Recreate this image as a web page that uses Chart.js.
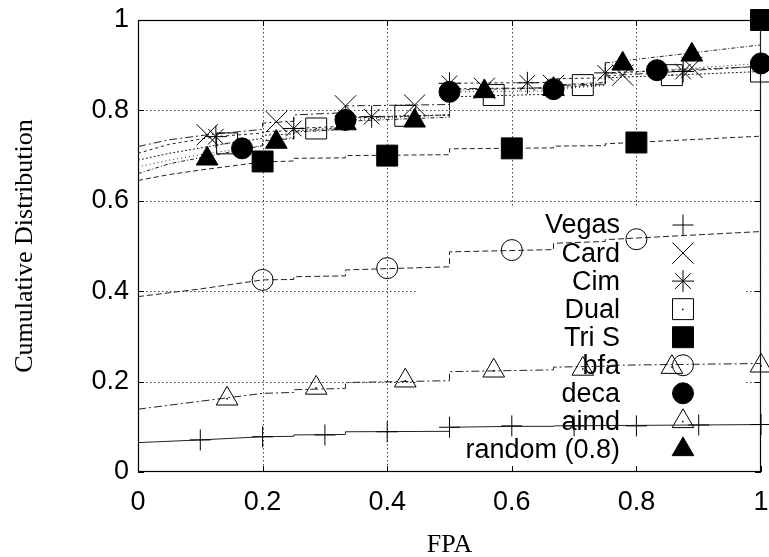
<!DOCTYPE html>
<html>
<head>
<meta charset="utf-8">
<script src="https://cdn.jsdelivr.net/npm/chart.js@4.4.1/dist/chart.umd.min.js"></script>
<style>
  body { margin: 0; background: #fff; }
</style>
</head>
<body>
<canvas id="cdfChart" width="769" height="557"></canvas>
<script>
// Series names, in key order
const seriesNames = ['Vegas', 'Card', 'Cim', 'Dual', 'Tri S', 'bfa', 'deca', 'aimd', 'random (0.8)'];

// Axis ticks
const xTicks = [0, 0.2, 0.4, 0.6, 0.8, 1];
const yTicks = [0, 0.2, 0.4, 0.6, 0.8, 1];

// CDF curves (x = FPA, y = cumulative fraction)
const vegasLineX = [0, 0.1, 0.2, 0.25, 0.25, 0.333, 0.333, 0.5, 0.5, 0.6, 0.667, 0.667, 0.9, 1, 1];
const vegasLineY = [0.065, 0.071, 0.078, 0.079, 0.082, 0.083, 0.089, 0.090, 0.099, 0.101, 0.101, 0.102, 0.104, 0.105, 1];
const cardLineX = [0, 0.05, 0.111, 0.2, 0.2, 0.25, 0.25, 0.333, 0.333, 0.5, 0.5, 0.667, 0.667, 0.75, 0.75, 1, 1];
const cardLineY = [0.720, 0.735, 0.746, 0.758, 0.772, 0.776, 0.790, 0.795, 0.810, 0.813, 0.848, 0.850, 0.855, 0.858, 0.876, 0.898, 1];
const cimLineX = [0, 0.05, 0.125, 0.2, 0.2, 0.25, 0.25, 0.333, 0.333, 0.5, 0.5, 0.667, 0.667, 0.75, 0.75, 1, 1];
const cimLineY = [0.705, 0.725, 0.742, 0.750, 0.753, 0.755, 0.760, 0.765, 0.783, 0.790, 0.860, 0.862, 0.870, 0.872, 0.883, 0.897, 1];
const dualLineX = [0, 0.05, 0.143, 0.2, 0.2, 0.25, 0.25, 0.333, 0.333, 0.5, 0.5, 0.667, 0.667, 0.75, 0.75, 1, 1];
const dualLineY = [0.690, 0.705, 0.727, 0.738, 0.745, 0.748, 0.755, 0.762, 0.785, 0.790, 0.830, 0.836, 0.850, 0.857, 0.872, 0.886, 1];
const triLineX = [0, 0.05, 0.1, 0.15, 0.2, 0.25, 0.25, 0.333, 0.333, 0.5, 0.5, 0.667, 0.667, 0.75, 0.75, 1, 1];
const triLineY = [0.645, 0.658, 0.668, 0.677, 0.686, 0.688, 0.694, 0.695, 0.700, 0.702, 0.715, 0.717, 0.721, 0.722, 0.726, 0.743, 1];
const bfaLineX = [0, 0.1, 0.2, 0.25, 0.25, 0.333, 0.333, 0.5, 0.5, 0.667, 0.667, 0.75, 0.75, 1, 1];
const bfaLineY = [0.388, 0.405, 0.425, 0.426, 0.432, 0.434, 0.447, 0.454, 0.487, 0.492, 0.506, 0.510, 0.514, 0.532, 1];
const decaLineX = [0, 0.05, 0.1, 0.167, 0.2, 0.2, 0.25, 0.25, 0.333, 0.333, 0.5, 0.5, 0.667, 0.667, 0.75, 0.75, 1, 1];
const decaLineY = [0.675, 0.690, 0.702, 0.716, 0.722, 0.735, 0.740, 0.752, 0.760, 0.779, 0.790, 0.841, 0.843, 0.847, 0.855, 0.880, 0.904, 1];
const aimdLineX = [0, 0.143, 0.2, 0.25, 0.25, 0.333, 0.333, 0.5, 0.5, 0.667, 0.667, 0.75, 0.75, 1, 1];
const aimdLineY = [0.139, 0.164, 0.174, 0.176, 0.182, 0.185, 0.198, 0.202, 0.222, 0.226, 0.232, 0.234, 0.236, 0.240, 1];
const randomLineX = [0, 0.05, 0.111, 0.2, 0.2, 0.25, 0.25, 0.333, 0.333, 0.5, 0.5, 0.667, 0.667, 0.75, 0.75, 1, 1];
const randomLineY = [0.660, 0.682, 0.698, 0.722, 0.732, 0.738, 0.752, 0.758, 0.776, 0.785, 0.845, 0.850, 0.856, 0.862, 0.905, 0.945, 1];

// Marker points along each curve
const vegasMarkX = [0.1, 0.2, 0.3, 0.4, 0.5, 0.6, 0.7, 0.8, 0.9, 1];
const vegasMarkY = [0.071, 0.078, 0.082, 0.089, 0.099, 0.102, 0.102, 0.102, 0.104, 0.105];
const cardMarkX = [0.111, 0.222, 0.333, 0.444, 0.556, 0.667, 0.778, 0.889];
const cardMarkY = [0.746, 0.775, 0.810, 0.812, 0.849, 0.855, 0.878, 0.895];
const cimMarkX = [0.125, 0.25, 0.375, 0.5, 0.625, 0.75, 0.875];
const cimMarkY = [0.742, 0.760, 0.786, 0.860, 0.861, 0.883, 0.886];
const dualMarkX = [0.143, 0.286, 0.429, 0.571, 0.714, 0.857, 1];
const dualMarkY = [0.727, 0.760, 0.788, 0.834, 0.856, 0.878, 0.886];
const triMarkX = [0.2, 0.4, 0.6, 0.8, 1];
const triMarkY = [0.687, 0.700, 0.716, 0.729, 1];
const bfaMarkX = [0.2, 0.4, 0.6, 0.8];
const bfaMarkY = [0.425, 0.451, 0.491, 0.515];
const decaMarkX = [0.167, 0.333, 0.5, 0.667, 0.833, 1];
const decaMarkY = [0.716, 0.779, 0.841, 0.847, 0.889, 0.904];
const aimdMarkX = [0.143, 0.286, 0.429, 0.571, 0.714, 0.857, 1];
const aimdMarkY = [0.162, 0.186, 0.202, 0.224, 0.228, 0.232, 0.235];
const randomMarkX = [0.111, 0.222, 0.333, 0.444, 0.556, 0.667, 0.778, 0.889];
const randomMarkY = [0.693, 0.730, 0.771, 0.777, 0.842, 0.847, 0.903, 0.923];

const pts = (xs, ys) => xs.map((x, i) => ({ x: x, y: ys[i] }));

const lines = [
    [vegasLineX, vegasLineY], [cardLineX, cardLineY], [cimLineX, cimLineY], [dualLineX, dualLineY],
    [triLineX, triLineY], [bfaLineX, bfaLineY], [decaLineX, decaLineY], [aimdLineX, aimdLineY],
    [randomLineX, randomLineY]
];
const marks = [
    [vegasMarkX, vegasMarkY], [cardMarkX, cardMarkY], [cimMarkX, cimMarkY], [dualMarkX, dualMarkY],
    [triMarkX, triMarkY], [bfaMarkX, bfaMarkY], [decaMarkX, decaMarkY], [aimdMarkX, aimdMarkY],
    [randomMarkX, randomMarkY]
];

// gnuplot-ish styles: dash pattern, point style, size, filled, centre dot
const styles = [
    { dash: [], point: 'cross', r: 10.5, fill: false },
    { dash: [8, 3, 2, 3], point: 'crossRot', r: 15, fill: false },
    { dash: [3, 3], point: 'star', r: 11, fill: false },
    { dash: [2, 2], point: 'rect', r: 14.8, fill: false, dot: true },
    { dash: [5, 3], point: 'rect', r: 14.8, fill: true },
    { dash: [6, 3], point: 'circle', r: 10.5, fill: false },
    { dash: [1, 3], point: 'circle', r: 10.5, fill: true },
    { dash: [8, 3, 2, 3], point: 'triangle', r: 12.5, fill: false, dot: true },
    { dash: [4, 2, 1, 2], point: 'triangle', r: 12.5, fill: true }
];

const datasets = [];
seriesNames.forEach((name, i) => {
    const st = styles[i];
    datasets.push({
        label: name + ' points',
        data: pts(marks[i][0], marks[i][1]),
        showLine: false,
        pointStyle: st.point,
        pointRadius: st.r,
        pointHoverRadius: st.r,
        pointBorderWidth: 1,
        pointBorderColor: '#000',
        pointBackgroundColor: st.fill ? '#000' : 'rgba(0,0,0,0)',
        centerDot: !!st.dot,
        clip: false,
        order: 1
    });
    datasets.push({
        label: name,
        data: pts(lines[i][0], lines[i][1]),
        showLine: true,
        borderColor: '#222',
        borderWidth: 1,
        borderDash: st.dash,
        pointRadius: 0,
        pointHoverRadius: 0,
        tension: 0,
        fill: false,
        order: 2
    });
});

const sansFont = '"Liberation Sans", Arial, sans-serif';
const serifFont = '"Liberation Serif", "Times New Roman", serif';

// grid, frame, ticks and the key, drawn under the data like gnuplot does
const gnuplotFrame = {
    id: 'gnuplotFrame',
    beforeDatasetsDraw(chart) {
        const ctx = chart.ctx;
        const xs = chart.scales.x, ys = chart.scales.y;
        const a = chart.chartArea;
        ctx.save();

        // dotted grid
        ctx.strokeStyle = '#444';
        ctx.lineWidth = 1;
        ctx.setLineDash([1.5, 2.5]);
        xTicks.forEach(v => {
            if (v <= 0 || v >= 1) return;
            const p = Math.round(xs.getPixelForValue(v)) + 0.5;
            ctx.beginPath(); ctx.moveTo(p, a.top); ctx.lineTo(p, a.bottom); ctx.stroke();
        });
        yTicks.forEach(v => {
            if (v <= 0 || v >= 1) return;
            const p = Math.round(ys.getPixelForValue(v)) + 0.5;
            ctx.beginPath(); ctx.moveTo(a.left, p); ctx.lineTo(a.right, p); ctx.stroke();
        });
        ctx.setLineDash([]);

        // key box hides the grid
        ctx.fillStyle = '#fff';
        ctx.fillRect(417, 207, 328, 259);

        // border
        ctx.strokeStyle = '#000';
        ctx.lineWidth = 1.2;
        ctx.strokeRect(a.left + 0.5, a.top + 0.5, a.right - a.left - 1, a.bottom - a.top - 1);

        // inward tick marks on all four sides
        ctx.lineWidth = 1;
        xTicks.forEach(v => {
            const p = Math.round(xs.getPixelForValue(v)) + 0.5;
            ctx.beginPath();
            ctx.moveTo(p, a.bottom); ctx.lineTo(p, a.bottom - 6);
            ctx.moveTo(p, a.top); ctx.lineTo(p, a.top + 6);
            ctx.stroke();
        });
        yTicks.forEach(v => {
            const p = Math.round(ys.getPixelForValue(v)) + 0.5;
            ctx.beginPath();
            ctx.moveTo(a.left, p); ctx.lineTo(a.left + 6, p);
            ctx.moveTo(a.right, p); ctx.lineTo(a.right - 6, p);
            ctx.stroke();
        });

        // key: labels right aligned, sample symbols to the right
        ctx.font = '27px ' + sansFont;
        ctx.textAlign = 'right';
        ctx.textBaseline = 'middle';
        seriesNames.forEach((name, i) => {
            const y = 225 + i * 28.05;
            ctx.fillStyle = '#000';
            ctx.fillText(name, 620, y + 1);
            const st = styles[i];
            ctx.strokeStyle = '#000';
            ctx.lineWidth = 1;
            ctx.fillStyle = st.fill ? '#000' : 'rgba(0,0,0,0)';
            Chart.helpers.drawPoint(ctx, { pointStyle: st.point, radius: st.r, rotation: 0, borderWidth: 1 }, 683, y);
            if (st.dot) {
                ctx.fillStyle = '#000';
                ctx.fillRect(682, y - 0.5, 1.5, 1.5);
            }
        });
        ctx.restore();
    },
    afterDatasetsDraw(chart) {
        const ctx = chart.ctx;
        ctx.save();
        ctx.fillStyle = '#000';
        chart.data.datasets.forEach((ds, i) => {
            if (!ds.centerDot) return;
            chart.getDatasetMeta(i).data.forEach(pt => {
                ctx.fillRect(pt.x - 0.75, pt.y - 0.75, 1.5, 1.5);
            });
        });
        ctx.restore();
    },
    afterDraw(chart) {
        const ctx = chart.ctx;
        const a = chart.chartArea;
        ctx.save();
        ctx.fillStyle = '#000';
        ctx.font = '26px ' + serifFont;
        ctx.textAlign = 'center';
        ctx.textBaseline = 'middle';
        ctx.fillText('FPA', (a.left + a.right) / 2, 545);
        ctx.translate(25, (a.top + a.bottom) / 2);
        ctx.rotate(-Math.PI / 2);
        ctx.fillText('Cumulative Distribution', 0, 0);
        ctx.restore();
    }
};

// keep the plot box exactly where gnuplot put it
const noPad = s => { s.paddingTop = 0; s.paddingBottom = 0; s.paddingLeft = 0; s.paddingRight = 0; };
const tickLabel = v => String(+(+v).toFixed(1));

new Chart(document.getElementById('cdfChart'), {
    type: 'scatter',
    data: { datasets: datasets },
    options: {
        responsive: false,
        animation: false,
        events: [],
        layout: { autoPadding: false, padding: { top: 20, right: 8, left: 0, bottom: 0 } },
        plugins: { legend: { display: false }, tooltip: { enabled: false } },
        scales: {
            x: {
                type: 'linear', min: 0, max: 1,
                afterFit: s => { s.height = 85; noPad(s); },
                grid: { display: false, drawTicks: false },
                border: { display: false },
                ticks: { stepSize: 0.2, padding: 14, color: '#000', maxRotation: 0, autoSkip: false,
                         font: { family: sansFont, size: 27 }, callback: tickLabel }
            },
            y: {
                type: 'linear', min: 0, max: 1,
                afterFit: s => { s.width = 138; noPad(s); },
                grid: { display: false, drawTicks: false },
                border: { display: false },
                ticks: { stepSize: 0.2, padding: 9, color: '#000', autoSkip: false,
                         font: { family: sansFont, size: 27 }, callback: tickLabel }
            }
        }
    },
    plugins: [gnuplotFrame]
});
</script>
</body>
</html>
